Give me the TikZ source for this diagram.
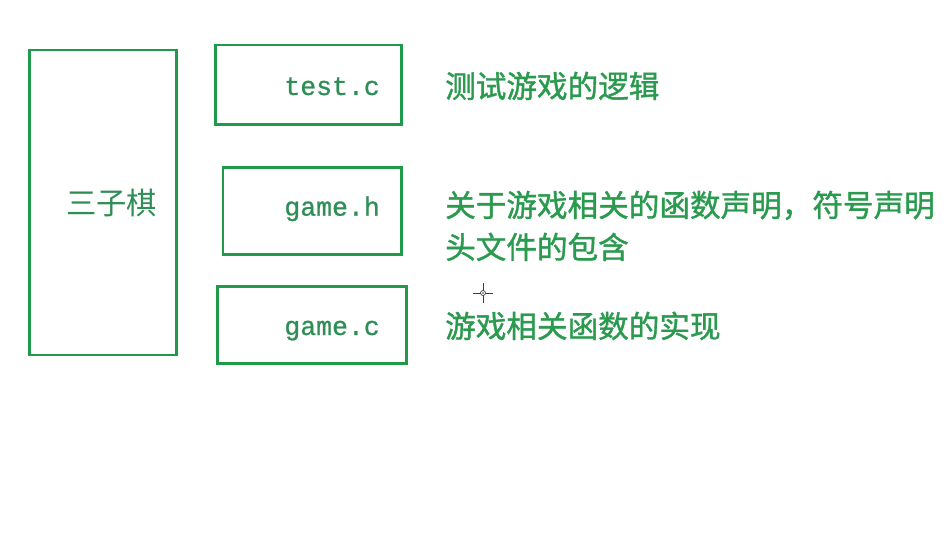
\documentclass[tikz,border=0pt]{standalone}
\usepackage{fontspec}
\newfontfamily\cjk[FakeBold=1.2]{Noto Sans CJK SC}
\newfontfamily\cjkthin{Noto Sans CJK SC}
\newfontfamily\monof[FakeBold=0.8]{Liberation Mono}
\definecolor{boxgreen}{HTML}{1F9A48}
\definecolor{txtgreen}{HTML}{2A9A4E}
\definecolor{lblgreen}{HTML}{2E8E56}
\tikzset{
  filebox/.style={draw=boxgreen, line width=2.8pt, minimum width=#1, inner sep=0pt},
  cn/.style={text=txtgreen, font=\cjk\fontsize{30.6}{36}\selectfont, inner sep=0pt, anchor=base west},
  fname/.style={text=lblgreen, font=\monof\fontsize{26.5}{30}\selectfont, inner sep=0pt, anchor=base east},
}
\begin{document}
\begin{tikzpicture}[x=1pt,y=-1pt]
\useasboundingbox[fill=white] (0,0) rectangle (948,535);
% boxes
\node[filebox=147.4pt, minimum height=305pt] (main) at (103,202.5) {};
\node[filebox=186pt, minimum height=79.3pt] (testbox) at (308.7,84.7) {};
\node[filebox=178.7pt, minimum height=86.6pt] (hbox) at (312.3,211) {};
\node[filebox=189pt, minimum height=76.6pt] (cbox) at (312.2,325) {};
% labels inside boxes
\node[text=lblgreen, font=\cjkthin\fontsize{30.3}{36}\selectfont, inner sep=0pt, anchor=base west] (mainlbl) at (66,214.6) {三子棋};
\node[fname] (testlbl) at (380,95) {test.c};
\node[fname] (hlbl) at (380,215.7) {game.h};
\node[fname] (clbl) at (380,335) {game.c};
% descriptions
\node[cn] (d1) at (445,97.6) {测试游戏的逻辑};
\node[cn] (d2a) at (445,216.6) {关于游戏相关的函数声明，符号声明};
\node[cn] (d2b) at (445,258.6) {头文件的包含};
\node[cn] (d3) at (445,337.6) {游戏相关函数的实现};
% cursor
\coordinate (cur) at (483,293);
\draw[black!75, line width=1pt] ([xshift=-10pt]cur) -- ([xshift=10pt]cur) ([yshift=-10pt]cur) -- ([yshift=10pt]cur);
\fill[white] (cur) circle (2.5pt);
\draw[black!75, line width=0.7pt] (cur) circle (2.5pt);
\fill[black!75] (cur) circle (0.8pt);
\end{tikzpicture}
\end{document}
